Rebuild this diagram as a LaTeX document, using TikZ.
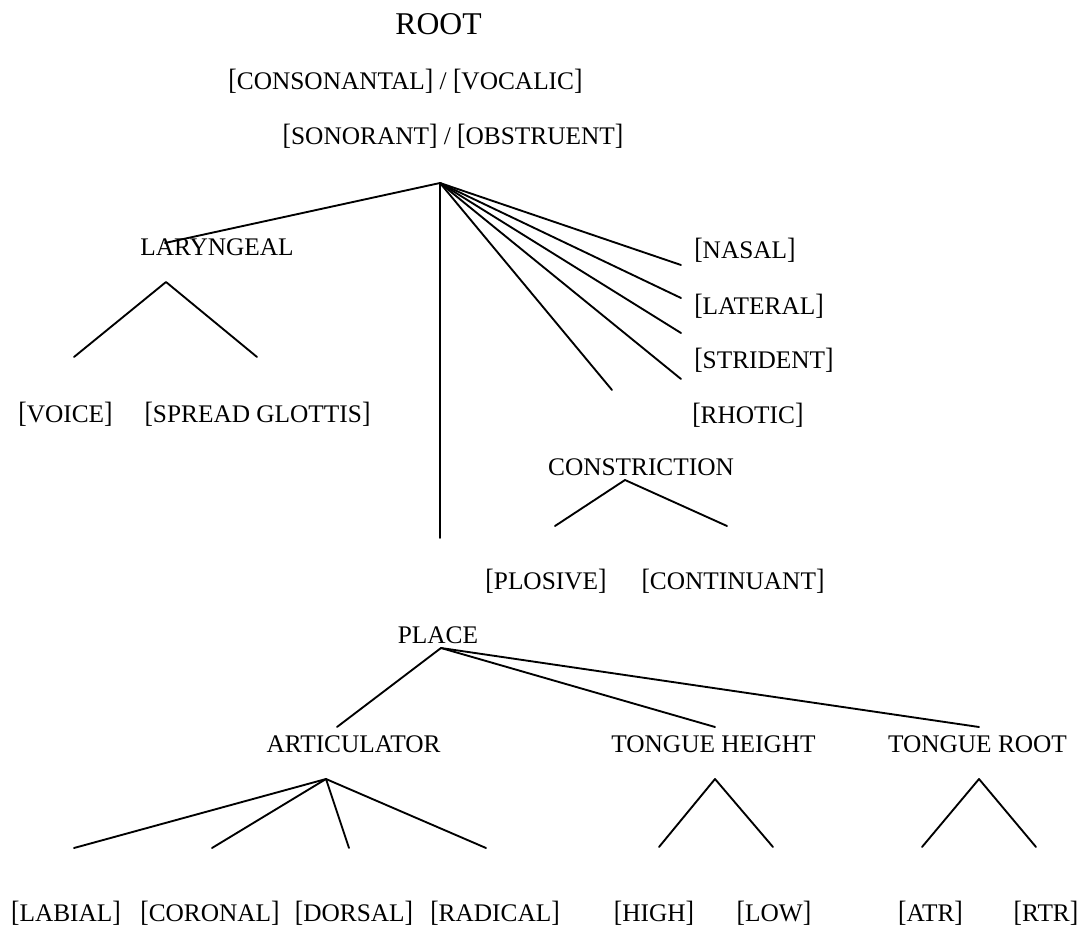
\documentclass[tikz,border=0pt]{standalone}
\usepackage{fontspec}
\usepackage{graphicx}
\setmainfont{Liberation Serif}
\newcommand{\featb}[1]{\scalebox{1}[1.16]{[}#1\scalebox{1}[1.16]{]}}
\begin{document}
\begin{tikzpicture}[x=0.75pt,y=-0.75pt,
  lbl/.style={inner sep=0pt,anchor=base,font=\fontsize{19}{22}\selectfont},
  lblw/.style={lbl,anchor=base west},
  big/.style={inner sep=0pt,anchor=base,font=\fontsize{23.75}{28}\selectfont},
  edge/.style={line width=1.4pt,line cap=round,line join=round}]
\useasboundingbox (0,0) rectangle (1088,934);
% labels
\node[big] (root) at (438.5,35) {ROOT};
\node[lbl] (cons) at (405.5,90) {\featb{CONSONANTAL} / \featb{VOCALIC}};
\node[lbl] (son) at (453,145) {\featb{SONORANT} / \featb{OBSTRUENT}};
\node[lbl] (lar) at (217,256) {LARYNGEAL};
\node[lbl] (voice) at (65.5,422) {\featb{VOICE}};
\node[lbl] (spread) at (257.5,422) {\featb{SPREAD GLOTTIS}};
\node[lblw] (nasal) at (694,258) {\featb{NASAL}};
\node[lblw] (lateral) at (694,314) {\featb{LATERAL}};
\node[lblw] (strident) at (694,368) {\featb{STRIDENT}};
\node[lblw] (rhotic) at (692,423) {\featb{RHOTIC}};
\node[lbl] (constr) at (641,475.7) {CONSTRICTION};
\node[lbl] (plosive) at (546,589) {\featb{PLOSIVE}};
\node[lbl] (cont) at (733,589) {\featb{CONTINUANT}};
\node[lbl] (place) at (438,643) {PLACE};
\node[lbl] (artic) at (353.6,752) {ARTICULATOR};
\node[lbl] (height) at (713.5,752) {TONGUE HEIGHT};
\node[lbl] (troot) at (977.5,752) {TONGUE ROOT};
\node[lbl] (labial) at (66,921) {\featb{LABIAL}};
\node[lbl] (coronal) at (210,921) {\featb{CORONAL}};
\node[lbl] (dorsal) at (354,921) {\featb{DORSAL}};
\node[lbl] (radical) at (495,921) {\featb{RADICAL}};
\node[lbl] (high) at (654,921) {\featb{HIGH}};
\node[lbl] (low) at (774,921) {\featb{LOW}};
\node[lbl] (atr) at (930.5,921) {\featb{ATR}};
\node[lbl] (rtr) at (1046,921) {\featb{RTR}};
% connector points
\coordinate (ra) at (440,183);
\coordinate (rLar) at (165,243);
\coordinate (rPlace) at (440,538);
\coordinate (rConstr) at (612,390);
\coordinate (rRhotic) at (681,379);
\coordinate (rStrid) at (681,333);
\coordinate (rLat) at (681,298);
\coordinate (rNasal) at (681,265);
\coordinate (la) at (166,282);
\coordinate (lVoice) at (74,357);
\coordinate (lSpread) at (257,357);
\coordinate (ca) at (625,480);
\coordinate (cPlos) at (555,526);
\coordinate (cCont) at (727,526);
\coordinate (pa) at (441,648);
\coordinate (pArtic) at (337,727);
\coordinate (pHeight) at (715,727);
\coordinate (pRoot) at (979,727);
\coordinate (aa) at (326,779);
\coordinate (aLab) at (74,848);
\coordinate (aCor) at (212,848);
\coordinate (aDor) at (349,848);
\coordinate (aRad) at (486,848);
\coordinate (ha) at (715,779);
\coordinate (hHigh) at (659,847);
\coordinate (hLow) at (773,847);
\coordinate (ta) at (979,779);
\coordinate (tAtr) at (922,847);
\coordinate (tRtr) at (1036,847);
% connectors
\draw[edge] (ra) -- (rLar);
\draw[edge] (ra) -- (rPlace);
\draw[edge] (ra) -- (rConstr);
\draw[edge] (ra) -- (rRhotic);
\draw[edge] (ra) -- (rStrid);
\draw[edge] (ra) -- (rLat);
\draw[edge] (ra) -- (rNasal);
\draw[edge] (lVoice) -- (la) -- (lSpread);
\draw[edge] (cPlos) -- (ca) -- (cCont);
\draw[edge] (pa) -- (pArtic);
\draw[edge] (pa) -- (pHeight);
\draw[edge] (pa) -- (pRoot);
\draw[edge] (aa) -- (aLab);
\draw[edge] (aa) -- (aCor);
\draw[edge] (aa) -- (aDor);
\draw[edge] (aa) -- (aRad);
\draw[edge] (hHigh) -- (ha) -- (hLow);
\draw[edge] (tAtr) -- (ta) -- (tRtr);
\end{tikzpicture}
\end{document}
